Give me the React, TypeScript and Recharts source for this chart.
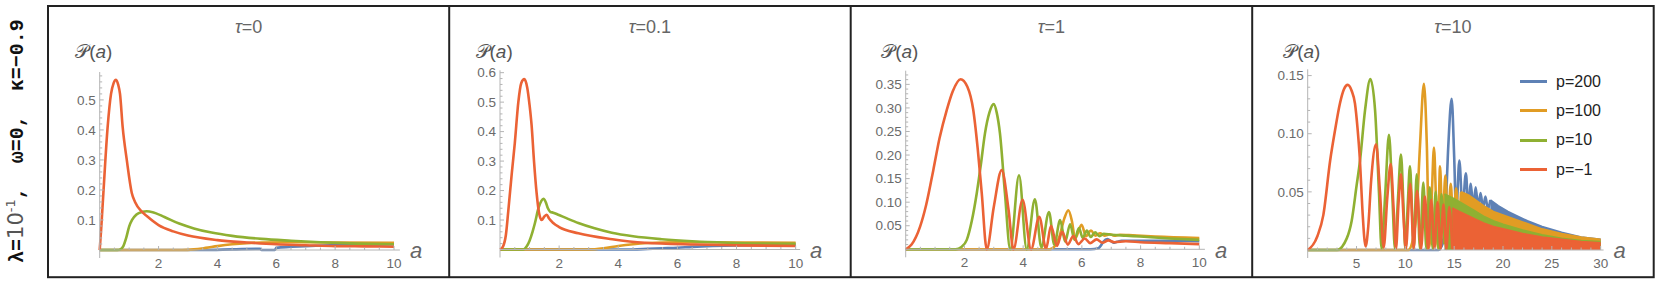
import React from 'react'
import { ComposedChart, Line, Area, XAxis, YAxis, Legend } from 'recharts'

const W = 1661
const H = 286

// Mathematica default palette
const C200 = '#5E81B5'
const C100 = '#E19C24'
const C10 = '#8FB032'
const CM1 = '#EB6235'

const axisColor = '#b4b4b4'
const tickText = '#6a6a6a'
const font = '"Liberation Sans", Arial, sans-serif'

const legendNames = ['p=200', 'p=100', 'p=10', 'p=\u22121']
const legendColors = [C200, C100, C10, CM1]

const xMajor10 = [2, 4, 6, 8, 10]
const xMajor30 = [5, 10, 15, 20, 25, 30]
const yMajorT0 = [0.1, 0.2, 0.3, 0.4, 0.5]
const yMajorT01 = [0.1, 0.2, 0.3, 0.4, 0.5, 0.6]
const yMajorT1 = [0.05, 0.1, 0.15, 0.2, 0.25, 0.3, 0.35]
const yMajorT10 = [0.05, 0.1, 0.15]

// tau = 0
const t0_pm1_a = [0, 0.05, 0.125, 0.27, 0.385, 0.47, 0.555, 0.63, 0.69, 0.78, 0.92, 1.09, 1.2, 1.43, 1.6, 2.0, 2.5, 3.0, 4.0, 5.0, 6.0, 7.0, 8.0, 9.0, 10]
const t0_pm1_P = [0, 0.07, 0.19, 0.41, 0.52, 0.555, 0.567, 0.55, 0.52, 0.41, 0.3, 0.19, 0.16, 0.128, 0.113, 0.083, 0.062, 0.048, 0.033, 0.025, 0.019, 0.016, 0.013, 0.012, 0.011]
const t0_p10_a = [0, 0.6, 0.7, 0.8, 0.9, 1.0, 1.1, 1.25, 1.45, 1.6, 1.8, 2.2, 2.7, 3.2, 3.8, 4.5, 5.5, 6.5, 7.5, 8.5, 10]
const t0_p10_P = [0, 0, 0.002, 0.012, 0.04, 0.078, 0.1, 0.118, 0.127, 0.129, 0.126, 0.11, 0.088, 0.072, 0.058, 0.047, 0.037, 0.031, 0.026, 0.022, 0.019]
const t0_p100_a = [0, 2.8, 3.2, 3.6, 4.0, 4.5, 5.0, 5.5, 6.5, 8, 10]
const t0_p100_P = [0, 0, 0.002, 0.007, 0.013, 0.019, 0.023, 0.025, 0.026, 0.025, 0.024]
const t0_p200_a = [0, 3.5, 4.5, 5.45, 5.5, 5.95, 6.0, 7.0, 8.0, 9.0, 10]
const t0_p200_P = [0, 0, 0.002, 0.004, 0, 0, 0.007, 0.013, 0.016, 0.018, 0.019]

// tau = 0.1
const t01_pm1_a = [0, 0.1, 0.2, 0.28, 0.4, 0.5, 0.62, 0.72, 0.82, 0.92, 1.0, 1.07, 1.15, 1.24, 1.32, 1.41, 1.5, 1.58, 1.66, 1.8, 2.0, 2.65, 3.8, 4.9, 6.6, 8, 10]
const t01_pm1_P = [0, 0.01, 0.05, 0.13, 0.26, 0.36, 0.5, 0.565, 0.578, 0.55, 0.49, 0.42, 0.3, 0.19, 0.125, 0.1, 0.112, 0.118, 0.105, 0.09, 0.076, 0.055, 0.035, 0.023, 0.017, 0.014, 0.012]
const t01_p10_a = [0, 0.79, 0.9, 1.0, 1.1, 1.18, 1.3, 1.4, 1.47, 1.55, 1.62, 1.7, 1.8, 1.97, 2.3, 2.65, 3.2, 3.78, 4.5, 5.47, 6.5, 7.7, 9, 10]
const t01_p10_P = [0, 0, 0.01, 0.03, 0.06, 0.089, 0.14, 0.165, 0.172, 0.16, 0.14, 0.128, 0.125, 0.118, 0.104, 0.09, 0.072, 0.057, 0.045, 0.035, 0.028, 0.023, 0.02, 0.019]
const t01_p100_a = [0, 3.0, 3.5, 4.0, 4.5, 5.0, 5.5, 6.5, 8, 10]
const t01_p100_P = [0, 0, 0.004, 0.012, 0.018, 0.022, 0.024, 0.025, 0.024, 0.023]
const t01_p200_a = [0, 4.5, 5.0, 5.5, 6.0, 6.5, 7.2, 8, 9, 10]
const t01_p200_P = [0, 0, 0.002, 0.004, 0.006, 0.009, 0.012, 0.014, 0.015, 0.016]

// tau = 1
const t1_pm1_a = [0, 0.2, 0.49, 0.7, 0.94, 1.15, 1.4, 1.6, 1.87, 2.1, 2.3, 2.45, 2.59, 2.76, 3.0, 3.27, 3.5, 3.67, 3.98, 4.27, 4.55, 4.78, 4.95, 5.15, 5.33, 5.52, 5.71, 5.88, 6.1, 6.28, 6.5, 6.7, 6.9, 7.1, 7.5, 8, 9, 10]
const t1_pm1_P = [0, 0.01, 0.048, 0.095, 0.168, 0.235, 0.296, 0.335, 0.361, 0.345, 0.296, 0.215, 0.119, 0, 0.09, 0.168, 0.085, 0, 0.105, 0, 0.069, 0.001, 0.05, 0.007, 0.037, 0.01, 0.028, 0.011, 0.023, 0.013, 0.021, 0.014, 0.019, 0.015, 0.017, 0.015, 0.013, 0.011]
const t1_p10_a = [0, 1.7, 1.9, 2.08, 2.25, 2.42, 2.56, 2.7, 2.85, 3.0, 3.1, 3.21, 3.38, 3.56, 3.86, 4.12, 4.4, 4.62, 4.88, 5.06, 5.26, 5.43, 5.6, 5.75, 5.9, 6.03, 6.17, 6.3, 6.45, 6.6, 6.75, 7.0, 7.5, 8, 9, 10]
const t1_p10_P = [0, 0, 0.005, 0.02, 0.06, 0.119, 0.18, 0.246, 0.29, 0.308, 0.29, 0.246, 0.119, 0, 0.157, 0, 0.106, 0.004, 0.079, 0.01, 0.062, 0.016, 0.053, 0.02, 0.045, 0.024, 0.04, 0.026, 0.036, 0.028, 0.033, 0.031, 0.029, 0.027, 0.023, 0.02]
const t1_p100_a = [0, 4.9, 5.1, 5.25, 5.4, 5.54, 5.66, 5.77, 5.99, 6.14, 6.31, 6.46, 6.62, 6.77, 6.95, 7.1, 7.3, 7.6, 8.5, 10]
const t1_p100_P = [0, 0, 0.008, 0.03, 0.065, 0.083, 0.06, 0.023, 0.052, 0.028, 0.04, 0.029, 0.034, 0.029, 0.032, 0.029, 0.031, 0.03, 0.027, 0.024]
const t1_p200_a = [0, 6.3, 6.56, 6.65, 6.73, 6.87, 7.0, 7.07, 7.2, 7.35, 8, 9, 10]
const t1_p200_P = [0, 0, 0.002, 0.008, 0.016, 0.022, 0.017, 0.014, 0.016, 0.018, 0.018, 0.018, 0.017]

// tau = 10 : resolved oscillations, then the dense tail as an envelope band
const t10_pm1_a = [0, 1.0, 1.6, 2.3, 2.8, 3.3, 3.7, 4.1, 4.5, 4.84, 5.1, 5.35, 5.6, 5.93, 6.2, 6.5, 7.0, 7.4, 7.78, 8.15, 8.5, 8.8, 9.04, 9.3, 9.55, 9.8, 10.05, 10.5, 10.85, 11.2, 11.6, 12.0, 12.33, 12.65, 12.97, 13.3, 13.6, 13.9, 14.2, 14.5, 14.8]
const t10_pm1_P = [0, 0.012, 0.03, 0.077, 0.103, 0.126, 0.138, 0.142, 0.137, 0.126, 0.105, 0.077, 0.035, 0.003, 0.02, 0.06, 0.091, 0.05, 0.002, 0.045, 0.074, 0.035, 0.001, 0.04, 0.065, 0.03, 0.001, 0.057, 0.001, 0.051, 0.001, 0.046, 0.001, 0.043, 0.001, 0.041, 0.001, 0.039, 0.001, 0.037, 0.001]
const t10_pm1_band_a = [14.8, 15.5, 16, 17, 18, 19, 20, 22, 24, 26, 28, 30]
const t10_pm1_band_P = [0.036, 0.033, 0.031, 0.027, 0.023, 0.02, 0.018, 0.014, 0.011, 0.009, 0.007, 0.006]
const t10_p10_a = [0, 3.0, 4.0, 4.5, 5.0, 5.36, 5.87, 6.42, 6.9, 7.3, 7.57, 7.95, 8.32, 8.65, 8.94, 9.25, 9.55, 9.8, 10.0, 10.25, 10.47, 10.68, 10.85, 11.16, 11.5, 11.84, 12.15, 12.5, 12.8, 13.1, 13.4, 13.7, 14.0]
const t10_p10_P = [0, 0, 0.01, 0.025, 0.055, 0.077, 0.12, 0.147, 0.12, 0.049, 0.001, 0.05, 0.099, 0.05, 0.001, 0.045, 0.082, 0.04, 0.001, 0.04, 0.072, 0.035, 0.001, 0.065, 0.001, 0.058, 0.001, 0.054, 0.001, 0.05, 0.001, 0.048, 0.005]
const t10_p10_band_a = [14.0, 15, 16, 17, 18, 19, 20, 22, 24, 26, 28, 30]
const t10_p10_band_P = [0.048, 0.044, 0.039, 0.034, 0.029, 0.025, 0.022, 0.017, 0.013, 0.01, 0.008, 0.007]
const t10_p100_a = [0, 10.3, 10.8, 11.2, 11.5, 11.9, 12.2, 12.45, 12.7, 12.93, 13.15, 13.32, 13.55, 13.8, 14.1, 14.35, 14.65, 14.9, 15.2, 15.45, 15.7]
const t10_p100_P = [0, 0, 0.01, 0.04, 0.09, 0.143, 0.09, 0.002, 0.045, 0.088, 0.04, 0.002, 0.072, 0.02, 0.064, 0.02, 0.057, 0.022, 0.053, 0.025, 0.05]
const t10_p100_band_a = [15.7, 16.5, 17, 18, 19, 20, 22, 24, 26, 28, 30]
const t10_p100_band_P = [0.05, 0.047, 0.044, 0.038, 0.033, 0.03, 0.024, 0.018, 0.014, 0.011, 0.009]
const t10_p200_a = [0, 13.4, 13.8, 14.1, 14.4, 14.74, 15.0, 15.2, 15.53, 15.85, 16.2, 16.45, 16.7, 16.95, 17.2, 17.45, 17.7, 17.95, 18.2, 18.45, 18.7]
const t10_p200_P = [0, 0, 0.005, 0.03, 0.09, 0.13, 0.08, 0.03, 0.077, 0.035, 0.066, 0.035, 0.057, 0.036, 0.054, 0.036, 0.049, 0.036, 0.046, 0.035, 0.043]
const t10_p200_band_a = [18.7, 19.5, 20.5, 21.5, 22.5, 24, 26, 28, 30]
const t10_p200_band_P = [0.043, 0.038, 0.033, 0.029, 0.025, 0.02, 0.015, 0.011, 0.009]

interface Pt { a: number; P: number }
interface Series { name: string; color: string; line: Pt[]; band?: Pt[] }
interface PanelDef {
  tau: string
  x0: number
  x1: number
  yTop: number
  yBot: number
  xMax: number
  yMax: number
  xMajor: number[]
  xStep: number
  yMajor: number[]
  yStep: number
  digits: number
  series: Series[]
  legend?: boolean
}

const pts = (a: number[], P: number[]): Pt[] => a.map((v, i) => ({ a: v, P: P[i] }))

const steps = (max: number, step: number) => {
  const out: number[] = []
  for (let k = 0; k * step <= max + 1e-9; k++) out.push(+(k * step).toFixed(6))
  return out
}

const isIn = (list: number[], v: number) => list.some((m) => Math.abs(m - v) < 1e-6)

const panels: PanelDef[] = [
  {
    tau: '0', x0: 99.7, x1: 399.9, yTop: 72, yBot: 250, xMax: 10.2, yMax: 0.593,
    xMajor: xMajor10, xStep: 0.5, yMajor: yMajorT0, yStep: 0.02, digits: 1,
    series: [
      { name: legendNames[0], color: C200, line: pts(t0_p200_a, t0_p200_P) },
      { name: legendNames[1], color: C100, line: pts(t0_p100_a, t0_p100_P) },
      { name: legendNames[2], color: C10, line: pts(t0_p10_a, t0_p10_P) },
      { name: legendNames[3], color: CM1, line: pts(t0_pm1_a, t0_pm1_P) },
    ],
  },
  {
    tau: '0.1', x0: 500, x1: 800.1, yTop: 70.3, yBot: 249.5, xMax: 10.15, yMax: 0.608,
    xMajor: xMajor10, xStep: 0.5, yMajor: yMajorT01, yStep: 0.02, digits: 1,
    series: [
      { name: legendNames[0], color: C200, line: pts(t01_p200_a, t01_p200_P) },
      { name: legendNames[1], color: C100, line: pts(t01_p100_a, t01_p100_P) },
      { name: legendNames[2], color: C10, line: pts(t01_p10_a, t01_p10_P) },
      { name: legendNames[3], color: CM1, line: pts(t01_pm1_a, t01_pm1_P) },
    ],
  },
  {
    tau: '1', x0: 905.7, x1: 1204.9, yTop: 70.7, yBot: 249.3, xMax: 10.19, yMax: 0.379,
    xMajor: xMajor10, xStep: 0.5, yMajor: yMajorT1, yStep: 0.01, digits: 2,
    series: [
      { name: legendNames[0], color: C200, line: pts(t1_p200_a, t1_p200_P) },
      { name: legendNames[1], color: C100, line: pts(t1_p100_a, t1_p100_P) },
      { name: legendNames[2], color: C10, line: pts(t1_p10_a, t1_p10_P) },
      { name: legendNames[3], color: CM1, line: pts(t1_pm1_a, t1_pm1_P) },
    ],
  },
  {
    tau: '10', x0: 1307.7, x1: 1603.6, yTop: 69.3, yBot: 250, xMax: 30.3, yMax: 0.1554,
    xMajor: xMajor30, xStep: 1, yMajor: yMajorT10, yStep: 0.01, digits: 2, legend: true,
    series: [
      { name: legendNames[0], color: C200, line: pts(t10_p200_a, t10_p200_P), band: pts(t10_p200_band_a, t10_p200_band_P) },
      { name: legendNames[1], color: C100, line: pts(t10_p100_a, t10_p100_P), band: pts(t10_p100_band_a, t10_p100_band_P) },
      { name: legendNames[2], color: C10, line: pts(t10_p10_a, t10_p10_P), band: pts(t10_p10_band_a, t10_p10_band_P) },
      { name: legendNames[3], color: CM1, line: pts(t10_pm1_a, t10_pm1_P), band: pts(t10_pm1_band_a, t10_pm1_band_P) },
    ],
  },
]

const makeXTick = (major: number[]) => (props: any) => {
  const { x, y, payload } = props
  const v = payload.value as number
  const big = isIn(major, v)
  if (v === 0) return <g />
  return (
    <g>
      <line x1={x} x2={x} y1={y} y2={y - (big ? 4 : 2.5)} stroke={axisColor} strokeWidth={1} />
      {big && (
        <text x={x} y={y + 18} textAnchor='middle' fontSize={13.5} fontFamily={font} fill={tickText}>
          {String(v)}
        </text>
      )}
    </g>
  )
}

const makeYTick = (major: number[], digits: number) => (props: any) => {
  const { x, y, payload } = props
  const v = payload.value as number
  const big = isIn(major, v)
  return (
    <g>
      {v === 0 ? (
        <line x1={x} x2={x} y1={y} y2={y + 8} stroke={axisColor} strokeWidth={1} />
      ) : (
        <line x1={x} x2={x + (big ? 4 : 2.5)} y1={y} y2={y} stroke={axisColor} strokeWidth={1} />
      )}
      {big && (
        <text x={x - 4} y={y} dy={4.7} textAnchor='end' fontSize={13.5} fontFamily={font} fill={tickText}>
          {v.toFixed(digits)}
        </text>
      )}
    </g>
  )
}

const renderLegend = () => (
  <div style={{ fontFamily: font, fontSize: 16, color: '#222' }}>
    {legendNames.map((n, i) => (
      <div key={n} style={{ display: 'flex', alignItems: 'center', height: 29.3 }}>
        <div style={{ width: 27, height: 3, background: legendColors[i], marginRight: 9 }} />
        <span>{n}</span>
      </div>
    ))}
  </div>
)

const Panel: React.FC<{ p: PanelDef }> = ({ p }) => {
  const margin = { left: p.x0 - 1, right: W - p.x1, top: p.yTop, bottom: H - p.yBot - 1 }
  let z = 100
  return (
    <div style={{ position: 'absolute', left: 0, top: 0 }}>
      <ComposedChart width={W} height={H} margin={margin}>
        <XAxis
          type='number'
          dataKey='a'
          domain={[0, p.xMax]}
          ticks={steps(p.xMax, p.xStep)}
          interval={0}
          height={1}
          tickSize={0}
          tickMargin={0}
          tickLine={false}
          axisLine={{ stroke: axisColor }}
          tick={makeXTick(p.xMajor)}
        />
        <YAxis
          type='number'
          domain={[0, p.yMax]}
          ticks={steps(p.yMax, p.yStep)}
          interval={0}
          width={1}
          tickSize={0}
          tickMargin={0}
          tickLine={false}
          axisLine={{ stroke: axisColor }}
          tick={makeYTick(p.yMajor, p.digits)}
        />
        {p.series.flatMap((s) => {
          const items = []
          if (s.band) {
            items.push(
              <Area
                key={s.name + 'b'}
                data={s.band}
                dataKey='P'
                type='linear'
                stroke={s.color}
                strokeWidth={2}
                fill={s.color}
                fillOpacity={1}
                legendType='none'
                isAnimationActive={false}
                zIndex={z++}
              />
            )
          }
          items.push(
            <Line
              key={s.name}
              data={s.line}
              dataKey='P'
              name={s.name}
              type='monotone'
              stroke={s.color}
              strokeWidth={2.6}
              dot={false}
              isAnimationActive={false}
              zIndex={z++}
            />
          )
          return items
        })}
        {p.legend && (
          <Legend
            content={renderLegend}
            layout='vertical'
            align='center'
            verticalAlign='middle'
            wrapperStyle={{ left: 1520, top: 67, width: 'auto' }}
          />
        )}
      </ComposedChart>
    </div>
  )
}

const dividers = [449.2, 850.7, 1252.2]
const panelCenters = [248.6, 650, 1051.5, 1453]

const App: React.FC = () => {
  return (
    <div style={{ position: 'absolute', left: 0, top: 0, width: W, height: H, background: '#fff' }}>
      {panels.map((p) => (
        <Panel key={p.tau} p={p} />
      ))}
      <svg width={W} height={H} style={{ position: 'absolute', left: 0, top: 0 }}>
        <rect x={48} y={6} width={1605.7} height={271.2} fill='none' stroke='#222' strokeWidth={2} />
        {dividers.map((d) => (
          <line key={d} x1={d} x2={d} y1={6} y2={277.2} stroke='#222' strokeWidth={2} />
        ))}
        {panels.map((p, i) => (
          <g key={p.tau}>
            <text x={panelCenters[i]} y={33} textAnchor='middle' fontSize={18} fontFamily={font} fill='#666'>
              <tspan fontStyle='italic'>τ</tspan>={p.tau}
            </text>
            <text x={p.x0 - 24.5} y={58} fontSize={19} fontFamily={font} fill='#555'>
              <tspan fontFamily='"DejaVu Serif", "DejaVu Sans", serif'>𝒫</tspan>(<tspan fontStyle='italic'>a</tspan>)
            </text>
            <text x={p.x1 + 10} y={258} fontSize={22} fontStyle='italic' fontFamily={font} fill='#666'>
              a
            </text>
          </g>
        ))}
        <text
          transform='translate(23,263) rotate(-90)'
          fontFamily='"Liberation Mono", monospace'
          fontWeight='bold'
          fontSize={20}
          fill='#111'
          style={{ whiteSpace: 'pre' }}
        >
          λ=<tspan fontFamily='"DejaVu Sans", sans-serif' fontWeight='normal' fill='#555' fontSize={21}>10</tspan>
          <tspan fontFamily='"DejaVu Sans", sans-serif' fontWeight='normal' fill='#555' fontSize={13} dy={-8}>-1</tspan>
          <tspan dy={8}>,  ω=0,  κ=−0.9</tspan>
        </text>
      </svg>
    </div>
  )
}

export default App
